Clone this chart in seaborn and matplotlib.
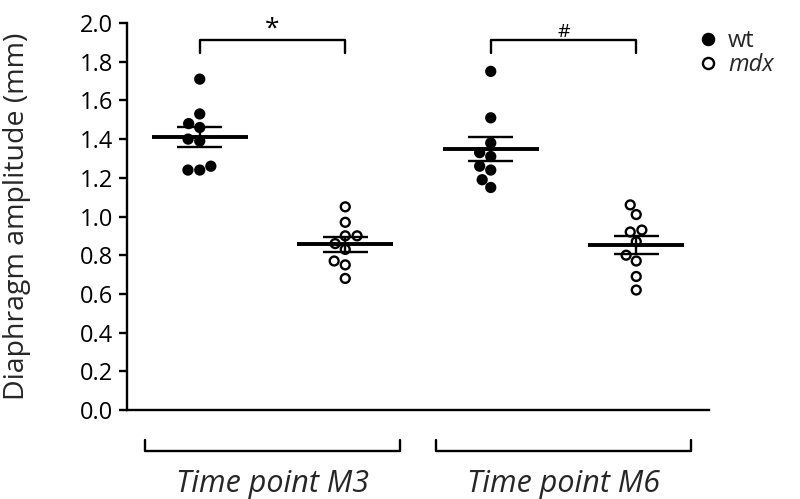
import numpy as np
import pandas as pd
import matplotlib
matplotlib.use("Agg")
import matplotlib.pyplot as plt
import matplotlib.transforms as mtransforms
from matplotlib.lines import Line2D
import seaborn as sns

# ---- data ----
categories = ["M3 wt", "M3 mdx", "M6 wt", "M6 mdx"]
genotypes = ["wt", "mdx", "wt", "mdx"]
time_labels = ["Time point M3", "Time point M6"]
legend_labels = ["wt", "mdx"]
y_ticks = [0.0, 0.2, 0.4, 0.6, 0.8, 1.0, 1.2, 1.4, 1.6, 1.8, 2.0]
sig_marks = ["*", "#"]

m3_wt = [1.71, 1.53, 1.48, 1.46, 1.40, 1.39, 1.26, 1.24, 1.24]
m3_mdx = [1.05, 0.97, 0.90, 0.90, 0.86, 0.83, 0.77, 0.75, 0.68]
m6_wt = [1.75, 1.51, 1.38, 1.33, 1.31, 1.26, 1.24, 1.19, 1.15]
m6_mdx = [1.06, 1.01, 0.92, 0.93, 0.87, 0.80, 0.77, 0.69, 0.62]
series = [m3_wt, m3_mdx, m6_wt, m6_mdx]

rows = []
for cat, gen, vals in zip(categories, genotypes, series):
    for v in vals:
        rows.append({"group": cat, "genotype": gen, "value": v})
df = pd.DataFrame(rows)

# ---- figure ----
sns.set_theme(style="ticks")
plt.rcParams["font.family"] = ["Open Sans", "DejaVu Sans"]

fig = plt.figure(figsize=(8, 4.99), dpi=100)
ax = fig.add_axes([127 / 800, 1 - 410 / 499, (709 - 127) / 800, (410 - 23) / 499])

sns.swarmplot(data=df, x="group", y="value", hue="genotype", order=categories,
              hue_order=legend_labels, palette={"wt": "black", "mdx": "white"},
              size=6.4, edgecolor="black", linewidth=1.7, legend=False, ax=ax, zorder=2)

# mean and SEM lines
for i, vals in enumerate(series):
    v = np.asarray(vals)
    m = v.mean()
    s = v.std(ddof=1) / np.sqrt(len(v))
    ax.hlines(m, i - 0.33, i + 0.33, color="black", lw=2.8, zorder=4)
    ax.hlines([m - s, m + s], i - 0.155, i + 0.155, color="black", lw=1.7, zorder=4)
    ax.vlines(i, m - s, m + s, color="black", lw=1.7, zorder=4)

ax.set_xlim(-0.5, 3.5)
ax.set_ylim(0, 2.0)
ax.set_yticks(y_ticks)
ax.set_yticklabels([f"{t:.1f}" for t in y_ticks])
ax.set_xticks([])
ax.set_xlabel("")
ax.set_ylabel("Diaphragm amplitude (mm)", fontsize=20.5)
ax.yaxis.set_label_coords(-0.165, 0.5)
sns.despine(ax=ax)
for sp in ["left", "bottom"]:
    ax.spines[sp].set_linewidth(1.7)
    ax.spines[sp].set_color("black")
ax.tick_params(axis="y", direction="out", length=6, width=1.7, labelsize=17,
               pad=4, colors="black")

# significance brackets
for k, mark in enumerate(sig_marks):
    x0, x1 = 2 * k, 2 * k + 1
    ax.plot([x0, x0, x1, x1], [1.845, 1.91, 1.91, 1.845], color="black", lw=1.7,
            clip_on=False, zorder=5)
    ax.text((x0 + x1) / 2, 1.905, mark, ha="center", va="bottom",
            fontsize=19 if mark == "*" else 14, color="black")

# bottom group brackets & labels
trans = mtransforms.blended_transform_factory(ax.transData, ax.transAxes)
for k, lab in enumerate(time_labels):
    c = 2 * k + 0.5
    x0, x1 = c - 0.875, c + 0.875
    ax.plot([x0, x0, x1, x1], [-0.0775, -0.106, -0.106, -0.0775], color="black",
            lw=1.7, transform=trans, clip_on=False)
    ax.text(c, -0.19, lab, ha="center", va="center", fontsize=22, style="italic",
            transform=trans)

# legend
handles = [
    Line2D([], [], marker="o", ls="", markerfacecolor="black", markeredgecolor="black",
           markersize=8, markeredgewidth=1.7),
    Line2D([], [], marker="o", ls="", markerfacecolor="white", markeredgecolor="black",
           markersize=8, markeredgewidth=1.7),
]
leg = fig.legend(handles, legend_labels, loc="upper left",
                 bbox_to_anchor=(682 / 800, 1 - 17 / 499), frameon=False, fontsize=17,
                 handletextpad=0.25, labelspacing=0.0, borderpad=0, handlelength=1.2)
leg.get_texts()[1].set_fontstyle("italic")

fig.savefig("out.png", dpi=100)
